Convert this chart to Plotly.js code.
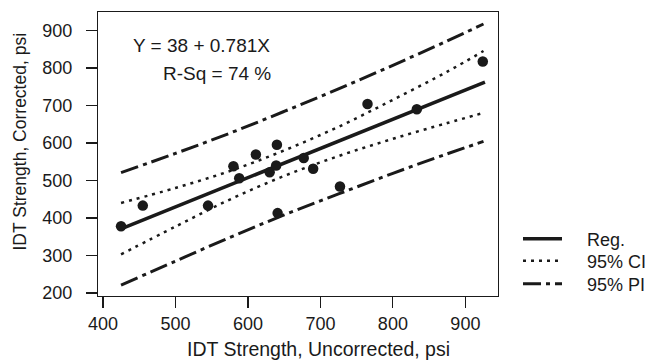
<!DOCTYPE html>
<html>
<head>
<meta charset="utf-8">
<script src="https://cdn.plot.ly/plotly-3.0.1.min.js"></script>
<style>html,body{margin:0;padding:0;background:#fff;}#chart{width:652px;height:360px;}</style>
</head>
<body>
<div id="chart"></div>
<script>
// Observed data points
var obsX = [425, 455, 545, 580, 588, 611, 630, 639, 641, 640, 677, 690, 727, 765, 833, 924];
var obsY = [378, 433, 433, 538, 506, 569, 522, 540, 413, 595, 560, 531, 484, 704, 690, 817];

// Fitted regression line (read endpoints)
var regX = [425, 927];
var regY = [371, 762];

// Confidence / prediction bands
var bandX   = [425, 500, 575, 650, 725, 800, 875, 925];
var ciUpper = [440, 480, 525, 580, 643, 715, 790, 845];
var ciLower = [303, 377, 449, 512, 565, 611, 653, 680];
var piUpper = [521, 572, 626, 684, 744, 807, 872, 917];
var piLower = [221, 285, 348, 408, 464, 519, 571, 604];

var xTicks = [400, 500, 600, 700, 800, 900];
var yTicks = [200, 300, 400, 500, 600, 700, 800, 900];

var legendNames = ['Reg.', '95% CI', '95% PI'];

var FONT = 'Liberation Sans, Arial, Helvetica, sans-serif';
var INK = '#1a1a1a';

var ciDash = '3px,5px';
var piDash = '18px,5px,4px,5px';
var PAD = '\u00a0\u00a0\u00a0\u00a0';

var traces = [
  {x: regX, y: regY, mode: 'lines', name: PAD + legendNames[0], legend: 'legend', line: {color: INK, width: 3.5}},
  {x: bandX, y: ciUpper, mode: 'lines', name: PAD + legendNames[1], legend: 'legend2', line: {color: INK, width: 2.5, dash: ciDash, shape: 'spline'}},
  {x: bandX, y: ciLower, mode: 'lines', name: legendNames[1], showlegend: false, line: {color: INK, width: 2.5, dash: ciDash, shape: 'spline'}},
  {x: bandX, y: piUpper, mode: 'lines', name: PAD + legendNames[2], legend: 'legend3', line: {color: INK, width: 3, dash: piDash, shape: 'spline'}},
  {x: bandX, y: piLower, mode: 'lines', name: legendNames[2], showlegend: false, line: {color: INK, width: 3, dash: piDash, shape: 'spline'}},
  {x: obsX, y: obsY, mode: 'markers', name: 'Data', showlegend: false, marker: {color: INK, size: 10.5, symbol: 'circle'}}
];

var L = 98, R = 498, T = 12, B = 296;
function px2paperX(p){ return (p - L) / (R - L); }
function px2paperY(p){ return (B - p) / (B - T); }

function legendAt(cy){
  return {
    x: px2paperX(518), xanchor: 'left',
    y: px2paperY(cy), yanchor: 'middle',
    font: {family: FONT, size: 18, color: INK},
    bgcolor: 'rgba(0,0,0,0)', borderwidth: 0,
    itemwidth: 39
  };
}

var layout = {
  width: 652, height: 360,
  margin: {l: L, r: 652 - R, t: T, b: 360 - B, pad: 0, autoexpand: false},
  paper_bgcolor: '#fff', plot_bgcolor: '#fff',
  font: {family: FONT, color: INK, size: 18},
  showlegend: true,
  legend: legendAt(239),
  legend2: legendAt(261),
  legend3: legendAt(284),
  xaxis: {
    range: [393.2, 945], tickvals: xTicks, ticktext: xTicks.map(String),
    showgrid: false, zeroline: false, showline: true, mirror: true, automargin: false,
    linecolor: INK, linewidth: 1.2, ticks: 'outside', ticklen: 11, tickwidth: 1.2, tickcolor: INK,
    tickfont: {family: FONT, size: 18, color: INK}, ticklabelstandoff: 0
  },
  yaxis: {
    range: [192, 949], tickvals: yTicks, ticktext: yTicks.map(String),
    showgrid: false, zeroline: false, showline: true, mirror: true, automargin: false,
    linecolor: INK, linewidth: 1.2, ticks: 'outside', ticklen: 11, tickwidth: 1.2, tickcolor: INK,
    tickfont: {family: FONT, size: 18, color: INK}, ticklabelstandoff: 10
  },
  annotations: [
    {text: 'Y = 38 + 0.781X', xref: 'paper', yref: 'paper', x: px2paperX(272), y: px2paperY(46), xanchor: 'right', yanchor: 'middle', showarrow: false, font: {family: FONT, size: 19, color: INK}},
    {text: 'R-Sq = 74 %', xref: 'paper', yref: 'paper', x: px2paperX(273), y: px2paperY(73), xanchor: 'right', yanchor: 'middle', showarrow: false, font: {family: FONT, size: 19, color: INK}},
    {text: 'IDT Strength, Uncorrected, psi', xref: 'paper', yref: 'paper', x: px2paperX(318), y: px2paperY(349), xanchor: 'center', yanchor: 'middle', showarrow: false, font: {family: FONT, size: 19.5, color: INK}},
    {text: 'IDT Strength, Corrected, psi', xref: 'paper', yref: 'paper', x: px2paperX(19), y: px2paperY(141.5), xanchor: 'center', yanchor: 'middle', textangle: -90, showarrow: false, font: {family: FONT, size: 17.5, color: INK}}
  ]
};

Plotly.newPlot('chart', traces, layout, {displayModeBar: false, staticPlot: true});
</script>
</body>
</html>
